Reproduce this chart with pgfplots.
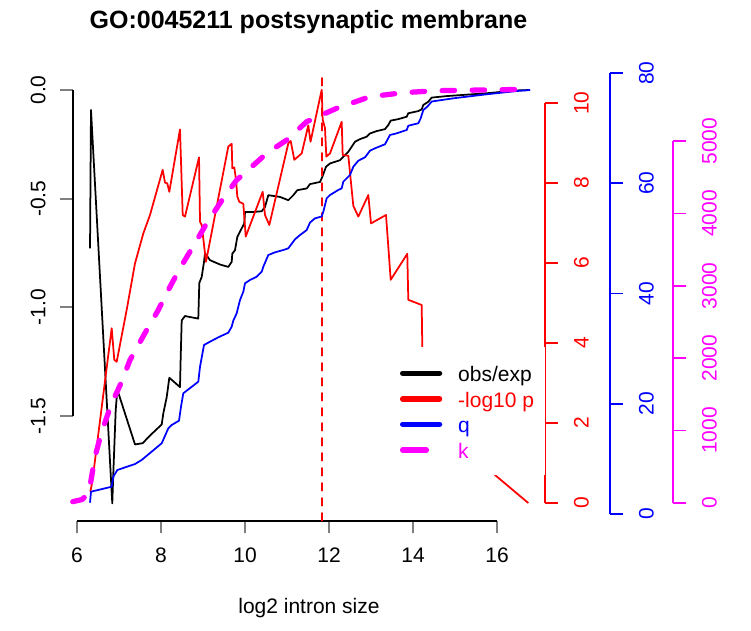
\documentclass[border=0pt]{standalone}
\usepackage{fontspec}
\setmainfont{Liberation Sans}
\usepackage{pgfplots}
\pgfplotsset{compat=1.18}
\definecolor{rred}{HTML}{FF0000}
\definecolor{rblue}{HTML}{0000FF}
\definecolor{rmag}{HTML}{FF00FF}
\pgfplotsset{
  rbase/.style={scale only axis, clip=false, anchor=south west,
    major tick length=12.6pt, minor tick num=0,
    axis line style={line width=1.75pt},
    tick style={line width=1.75pt},
    tick label style={font=\fontsize{21}{25}\selectfont, inner sep=0pt},
  },
}
\begin{document}
\begin{tikzpicture}[x=1pt,y=1pt]
\useasboundingbox (0,0) rectangle (751,630);

% x axis
\begin{axis}[rbase, at={(77pt,109.3pt)}, width=420pt, height=10pt,
  xmin=6, xmax=16, ymin=0, ymax=1,
  axis x line*=bottom, axis y line=none, tick align=outside,
  xtick={6,8,10,12,14,16}, xticklabels={6,8,10,12,14,16},
  xticklabel style={anchor=base, yshift=-29.3pt}]
\end{axis}

% obs/exp (left axis)
\begin{axis}[rbase, at={(72.7pt,214pt)}, width=424.3pt, height=326pt,
  xmin=5.8976, xmax=16, ymin=-1.5, ymax=0,
  axis y line*=left, axis x line=none, tick align=outside,
  ytick={-1.5,-1,-0.5,0}, yticklabels={-1.5,-1.0,-0.5,0.0},
  yticklabel style={xshift=-14.7pt, rotate=90, anchor=base}]
\addplot[black, line width=1.75pt, line join=round] table {
6.310 -0.729
6.333 -0.092
6.840 -1.902
6.864 -1.767
6.921 -1.475
6.960 -1.379
7.381 -1.631
7.564 -1.625
7.738 -1.590
8.017 -1.539
8.055 -1.488
8.136 -1.413
8.198 -1.324
8.452 -1.367
8.469 -1.229
8.493 -1.060
8.571 -1.040
8.888 -1.052
8.912 -0.888
8.969 -0.860
9.024 -0.791
9.048 -0.751
9.167 -0.783
9.405 -0.803
9.602 -0.814
9.683 -0.791
9.698 -0.753
9.762 -0.737
9.817 -0.676
9.898 -0.645
9.983 -0.614
10.000 -0.561
10.198 -0.561
10.398 -0.558
10.476 -0.538
10.555 -0.484
10.833 -0.492
11.031 -0.507
11.150 -0.484
11.245 -0.461
11.469 -0.453
11.548 -0.433
11.786 -0.423
11.840 -0.400
11.929 -0.353
12.024 -0.338
12.262 -0.323
12.340 -0.307
12.460 -0.284
12.540 -0.261
12.619 -0.238
12.738 -0.226
12.898 -0.215
12.976 -0.200
13.136 -0.189
13.333 -0.180
13.412 -0.161
13.469 -0.141
13.650 -0.134
13.850 -0.123
13.888 -0.107
14.126 -0.097
14.207 -0.089
14.245 -0.069
14.364 -0.054
14.445 -0.035
14.802 -0.028
15.755 -0.015
16.469 -0.002
16.786 0.000
};
\end{axis}

% -log10 p (red axis)
\begin{axis}[rbase, at={(72.7pt,127pt)}, width=472.3pt, height=400pt,
  xmin=5.8976, xmax=17.1429, ymin=0, ymax=10,
  axis y line*=right, axis x line=none, tick align=outside,
  axis line style={draw=rred}, ytick style={draw=rred},
  ytick={0,2,4,6,8,10}, yticklabels={0,2,4,6,8,10},
  yticklabel style={text=rred, xshift=31pt, rotate=90, anchor=base}]
\addplot[rred, line width=1.75pt, line join=round] table {
6.317 0.28
6.364 0.53
6.826 4.37
6.888 3.58
6.945 3.53
7.183 4.83
7.381 5.99
7.579 6.74
7.738 7.20
8.040 8.33
8.095 8.01
8.150 7.99
8.198 7.78
8.452 9.34
8.517 7.20
8.571 7.16
8.905 8.64
8.929 7.03
8.969 6.95
9.071 6.03
9.602 8.91
9.683 8.98
9.698 8.37
9.745 8.39
9.786 8.08
9.817 7.66
9.864 7.53
9.960 7.48
10.017 6.66
10.421 7.78
10.476 7.20
10.579 6.95
11.031 8.99
11.088 9.05
11.174 8.58
11.350 8.74
11.507 9.44
11.560 9.03
11.826 10.33
11.850 9.58
11.905 9.37
11.936 8.66
12.024 8.74
12.302 9.53
12.326 8.70
12.460 8.68
12.579 7.43
12.698 7.16
12.936 7.70
13.000 6.99
13.357 7.20
13.412 6.41
13.469 5.58
13.864 6.23
13.888 5.08
14.207 4.95
14.221 3.91
14.250 2.58
15.952 0.70
16.745 0.00
};
\addplot[rred, line width=1.75pt, dash pattern=on 7.5pt off 7.5pt, line cap=round] table {
11.833 -0.44
11.833 10.64
};
\end{axis}

% q (blue axis)
\begin{axis}[rbase, at={(72.7pt,116pt)}, width=537.3pt, height=441pt,
  xmin=5.8976, xmax=18.6905, ymin=0, ymax=80,
  axis y line*=right, axis x line=none, tick align=outside,
  axis line style={draw=rblue}, ytick style={draw=rblue},
  ytick={0,20,40,60,80}, yticklabels={0,20,40,60,80},
  yticklabel style={text=rblue, xshift=31pt, rotate=90, anchor=base}]
\addplot[rblue, line width=1.75pt, line join=round] table {
6.310 2.05
6.333 4.05
6.826 4.95
6.864 6.77
6.960 7.98
7.381 9.07
7.540 9.80
8.017 12.83
8.174 15.55
8.255 16.15
8.429 16.93
8.476 19.46
8.531 21.90
8.888 24.00
8.929 26.72
9.024 30.66
9.167 31.26
9.364 32.05
9.602 32.89
9.683 33.98
9.721 35.07
9.802 36.41
9.881 38.82
9.960 40.33
10.000 41.85
10.119 42.45
10.279 43.05
10.398 43.95
10.436 44.86
10.555 46.98
10.714 47.47
10.912 47.89
11.031 48.20
11.190 49.83
11.310 50.61
11.469 51.52
11.548 52.88
11.667 53.64
11.826 53.97
11.864 54.84
11.905 56.05
11.945 57.27
12.024 57.87
12.221 58.78
12.302 59.08
12.340 60.28
12.500 61.50
12.579 63.00
12.698 64.09
12.857 64.71
12.976 65.91
13.095 66.34
13.333 67.07
13.388 67.85
13.452 68.76
13.612 69.06
13.850 69.66
13.888 70.44
14.126 70.88
14.183 71.78
14.245 73.29
14.340 73.89
14.445 74.83
14.960 75.41
15.755 76.14
16.469 76.73
16.786 76.92
};
\end{axis}

% k (magenta axis)
\begin{axis}[rbase, at={(72.7pt,127pt)}, width=600.3pt, height=362pt,
  xmin=5.8976, xmax=20.1904, ymin=0, ymax=5000,
  axis y line*=right, axis x line=none, tick align=outside,
  axis line style={draw=rmag}, ytick style={draw=rmag},
  ytick={0,1000,2000,3000,4000,5000}, yticklabels={0,1000,2000,3000,4000,5000},
  yticklabel style={text=rmag, xshift=31pt, rotate=90, anchor=base}]
\addplot[rmag, line width=5.25pt, line join=round, line cap=round, dash pattern=on 12.5pt off 17.5pt] table {
5.898 18
6.119 48
6.262 124
6.310 235
6.429 640
6.588 985
6.826 1377
7.064 1675
7.262 1975
7.619 2348
7.936 2666
8.174 2942
8.452 3242
8.810 3587
9.088 3863
9.483 4209
9.802 4461
10.119 4623
10.517 4830
10.993 5014
11.469 5267
12.183 5452
12.976 5612
13.769 5667
14.564 5695
15.595 5704
16.786 5714
};
\end{axis}

% legend
\fill[white] (387,155) rectangle (545,283);
\draw[black, line width=5.3pt, line cap=round] (402.6,256.7) -- (439.6,256.7);
\draw[rred, line width=5.3pt, line cap=round] (402.6,231) -- (439.6,231);
\draw[rblue, line width=5.3pt, line cap=round] (402.6,205.7) -- (439.6,205.7);
\draw[rmag, line width=5.3pt, line cap=round] (402.6,180) -- (426.4,180);
\begin{scope}[every node/.style={inner sep=0pt, anchor=base west, font=\fontsize{21}{25}\selectfont}]
\node[text=black] at (458,248.7) {obs/exp};
\node[text=rred] at (458,223) {-log10 p};
\node[text=rblue] at (458,197.7) {q};
\node[text=rmag] at (458,172) {k};
\end{scope}

% titles
\node[anchor=base, inner sep=0pt, font=\fontsize{25}{30}\selectfont\bfseries] at (308.5,601) {GO:0045211 postsynaptic membrane};
\node[anchor=base, inner sep=0pt, font=\fontsize{21}{25}\selectfont] at (309,16.7) {log2 intron size};
\end{tikzpicture}
\end{document}
